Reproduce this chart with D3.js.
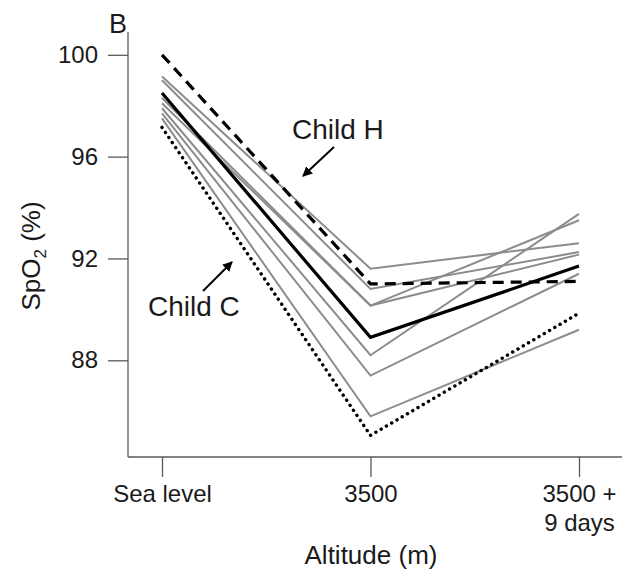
<!DOCTYPE html>
<html>
<head>
<meta charset="utf-8">
<script src="https://cdn.jsdelivr.net/npm/d3@7"></script>
<style>
  html, body { margin: 0; padding: 0; background: #fff; }
  svg { display: block; font-family: "Liberation Sans", Arial, Helvetica, sans-serif; }
</style>
</head>
<body>
<svg id="chart" width="626" height="579"></svg>
<script>
// ---- data ----
const stages = ["Sea level", "3500", "3500 +|9 days"];
const yTicks = [88, 92, 96, 100];
const greySeries = [
  [99.15, 91.6, 92.6],
  [99.0, 90.8, 92.25],
  [98.3, 90.15, 93.5],
  [98.1, 90.15, 92.15],
  [97.9, 88.2, 93.75],
  [97.7, 87.4, 91.4],
  [97.5, 85.8, 89.2]
];
const meanSeries = [98.5, 88.9, 91.7];
const childH = [100, 91.0, 91.1];
const childC = [97.15, 85.05, 89.85];

// ---- layout ----
const svg = d3.select("#chart");
const axisX0 = 128, axisY0 = 457, axisTop = 32, axisRight = 622;
const x = d3.scalePoint().domain(stages).range([162, 579]);
const y = d3.scaleLinear().domain([88, 100]).range([360.3, 54.8]);
const axisColor = "#5a5a5a";
const textColor = "#1a1a1a";

// axes lines
svg.append("line").attr("x1", axisX0).attr("x2", axisX0).attr("y1", axisTop).attr("y2", axisY0)
  .attr("stroke", axisColor).attr("stroke-width", 1.3);
svg.append("line").attr("x1", axisX0).attr("x2", axisRight).attr("y1", axisY0).attr("y2", axisY0)
  .attr("stroke", axisColor).attr("stroke-width", 1.3);

// y axis
const gy = svg.append("g").attr("transform", `translate(${axisX0},0)`)
  .call(d3.axisLeft(y).tickValues(yTicks).tickSize(20).tickSizeOuter(0).tickPadding(10));
gy.select(".domain").remove();
gy.selectAll(".tick line").attr("stroke", axisColor).attr("stroke-width", 1.3);
gy.selectAll(".tick text").attr("font-size", 24).attr("fill", textColor)
  .attr("font-family", "Liberation Sans, Arial, sans-serif");

// x axis
const gx = svg.append("g").attr("transform", `translate(0,${axisY0})`)
  .call(d3.axisBottom(x).tickSize(20).tickSizeOuter(0).tickPadding(8));
gx.select(".domain").remove();
gx.selectAll(".tick line").attr("stroke", axisColor).attr("stroke-width", 1.3);
gx.selectAll(".tick text").each(function(d) {
  const t = d3.select(this);
  t.text(null).attr("y", null).attr("dy", null)
    .attr("font-size", 24).attr("fill", textColor)
    .attr("font-family", "Liberation Sans, Arial, sans-serif");
  d.split("|").forEach((part, i) => {
    t.append("tspan").attr("x", 0).attr("y", 45 + i * 29).text(part);
  });
});

// lines
const line = d3.line().x((d, i) => x(stages[i])).y(d => y(d));
svg.append("g").selectAll("path").data(greySeries).join("path")
  .attr("d", line).attr("fill", "none").attr("stroke", "#8c8c8c").attr("stroke-width", 2);
svg.append("path").datum(meanSeries).attr("d", line).attr("fill", "none")
  .attr("stroke", "#000").attr("stroke-width", 3.2);
svg.append("path").datum(childH).attr("d", line).attr("fill", "none")
  .attr("stroke", "#000").attr("stroke-width", 3.2).attr("stroke-dasharray", "11 7");
svg.append("path").datum(childC).attr("d", line).attr("fill", "none")
  .attr("stroke", "#000").attr("stroke-width", 3.4).attr("stroke-linecap", "round")
  .attr("stroke-dasharray", "0.1 6");

// arrow marker
svg.append("defs").append("marker").attr("id", "arr")
  .attr("viewBox", "0 0 10 10").attr("refX", 9).attr("refY", 5)
  .attr("markerWidth", 5).attr("markerHeight", 5).attr("markerUnits", "strokeWidth")
  .attr("orient", "auto")
  .append("path").attr("d", "M0,0 L10,5 L0,10 Z").attr("fill", "#000");

// annotations
svg.append("text").attr("x", 292).attr("y", 139).attr("font-size", 28).attr("fill", textColor).text("Child H");
svg.append("line").attr("x1", 334).attr("y1", 147).attr("x2", 303).attr("y2", 176)
  .attr("stroke", "#000").attr("stroke-width", 2).attr("marker-end", "url(#arr)");
svg.append("text").attr("x", 148).attr("y", 316).attr("font-size", 28).attr("fill", textColor).text("Child C");
svg.append("line").attr("x1", 203).attr("y1", 291).attr("x2", 232).attr("y2", 262)
  .attr("stroke", "#000").attr("stroke-width", 2).attr("marker-end", "url(#arr)");

// panel letter
svg.append("text").attr("x", 109).attr("y", 33).attr("font-size", 27).attr("fill", textColor).text("B");

// axis titles
const yl = svg.append("text").attr("transform", "translate(40,256) rotate(-90)")
  .attr("text-anchor", "middle").attr("font-size", 26).attr("fill", textColor);
yl.append("tspan").text("SpO");
yl.append("tspan").attr("font-size", 17).attr("dy", 6).text("2");
yl.append("tspan").attr("dy", -6).text(" (%)");

svg.append("text").attr("x", 371).attr("y", 564).attr("text-anchor", "middle")
  .attr("font-size", 26).attr("fill", textColor).text("Altitude (m)");
</script>
</body>
</html>
